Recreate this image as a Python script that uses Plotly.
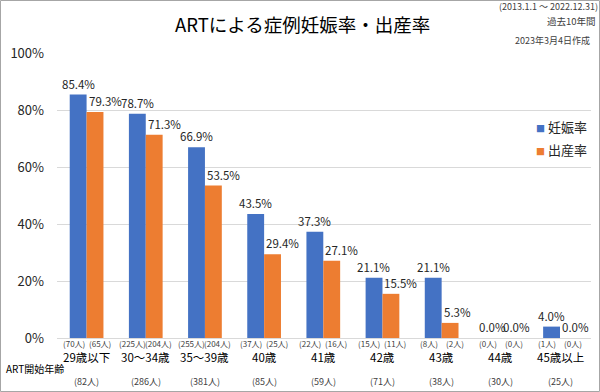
import plotly.graph_objects as go

categories = ["29歳以下", "30～34歳", "35～39歳", "40歳", "41歳", "42歳", "43歳", "44歳", "45歳以上"]
pregnancy_rate = [85.4, 78.7, 66.9, 43.5, 37.3, 21.1, 21.1, 0.0, 4.0]
birth_rate = [79.3, 71.3, 53.5, 29.4, 27.1, 15.5, 5.3, 0.0, 0.0]
pregnancy_n = [70, 225, 255, 37, 22, 15, 8, 0, 1]
birth_n = [65, 204, 204, 25, 16, 11, 2, 0, 0]
total_n = [82, 286, 381, 85, 59, 71, 38, 30, 25]
y_ticks = [0, 20, 40, 60, 80, 100]

BLUE = "#4472C4"
ORANGE = "#ED7D31"
FONT = "Noto Sans CJK JP"
W, H = 600, 392
L, R, T, B = 57, 9, 53, 54
PW, PH = W - L - R, H - T - B
HALF = 8.5  # half bar width in px

fig = go.Figure()
fig.add_trace(go.Bar(x=categories, y=pregnancy_rate, name="妊娠率", marker=dict(color=BLUE, line=dict(width=0))))
fig.add_trace(go.Bar(x=categories, y=birth_rate, name="出産率", marker=dict(color=ORANGE, line=dict(width=0))))

ann = []
for c, p, b, pn, bn, tn in zip(categories, pregnancy_rate, birth_rate, pregnancy_n, birth_n, total_n):
    ann.append(dict(x=c, y=p, xref="x", yref="y", text=f"{p:.1f}%", showarrow=False,
                    xanchor="center", yanchor="bottom", xshift=-HALF, yshift=1,
                    font=dict(size=11.5, color="#262626", family=FONT)))
    ann.append(dict(x=c, y=b, xref="x", yref="y", text=f"{b:.1f}%", showarrow=False,
                    xanchor="left", yanchor="bottom", xshift=0, yshift=1,
                    font=dict(size=11.5, color="#262626", family=FONT)))
    ann.append(dict(x=c, y=0, xref="x", yref="paper", text=f"({pn}人)", showarrow=False,
                    xanchor="center", yanchor="middle", xshift=-13, yshift=-5.5, borderpad=0,
                    font=dict(size=8, color="#404040", family=FONT)))
    ann.append(dict(x=c, y=0, xref="x", yref="paper", text=f"({bn}人)", showarrow=False,
                    xanchor="center", yanchor="middle", xshift=13, yshift=-5.5, borderpad=0,
                    font=dict(size=8, color="#404040", family=FONT)))
    ann.append(dict(x=c, y=0, xref="x", yref="paper", text=c, showarrow=False,
                    xanchor="center", yanchor="middle", yshift=-19,
                    font=dict(size=11.5, color="#000000", family=FONT)))
    ann.append(dict(x=c, y=0, xref="x", yref="paper", text=f"({tn}人)", showarrow=False,
                    xanchor="center", yanchor="middle", yshift=-43,
                    font=dict(size=9, color="#404040", family=FONT)))

def px_x(x):
    return (x - L) / PW

def px_y(y):
    return (H - B - y) / PH

ann += [
    dict(x=px_x(302), y=px_y(24), xref="paper", yref="paper", text="ARTによる症例妊娠率・出産率",
         showarrow=False, xanchor="center", yanchor="middle",
         font=dict(size=18.5, color="#000000", family=FONT)),
    dict(x=px_x(599), y=px_y(7), xref="paper", yref="paper", text="(2013.1.1 ～ 2022.12.31)",
         showarrow=False, xanchor="right", yanchor="middle", borderpad=0,
         font=dict(size=9, color="#404040", family=FONT)),
    dict(x=px_x(597), y=px_y(21), xref="paper", yref="paper", text="過去10年間",
         showarrow=False, xanchor="right", yanchor="middle", borderpad=0,
         font=dict(size=9.5, color="#404040", family=FONT)),
    dict(x=px_x(592), y=px_y(40), xref="paper", yref="paper", text="2023年3月4日作成",
         showarrow=False, xanchor="right", yanchor="middle",
         font=dict(size=9, color="#404040", family=FONT)),
    dict(x=px_x(4), y=px_y(369), xref="paper", yref="paper", text="ART開始年齢",
         showarrow=False, xanchor="left", yanchor="middle",
         font=dict(size=10, color="#000000", family=FONT)),
    dict(x=px_x(534), y=px_y(126), xref="paper", yref="paper",
         text=f"<span style='color:{BLUE};font-size:9px'>■</span> 妊娠率",
         showarrow=False, xanchor="left", yanchor="middle",
         font=dict(size=13, color="#262626", family=FONT)),
    dict(x=px_x(534), y=px_y(149), xref="paper", yref="paper",
         text=f"<span style='color:{ORANGE};font-size:9px'>■</span> 出産率",
         showarrow=False, xanchor="left", yanchor="middle",
         font=dict(size=13, color="#262626", family=FONT)),
]

fig.update_layout(
    width=W, height=H,
    margin=dict(l=L, r=R, t=T, b=B),
    paper_bgcolor="white", plot_bgcolor="white",
    barmode="group", bargap=0.43, bargroupgap=0,
    showlegend=False,
    annotations=ann,
    font=dict(family=FONT),
    shapes=[dict(type="rect", xref="paper", yref="paper",
                 x0=px_x(0.5), x1=px_x(W - 0.5), y0=px_y(H - 0.5), y1=px_y(0.5),
                 line=dict(color="#a6a6a6", width=1), layer="above")],
)
fig.update_xaxes(showticklabels=False, showgrid=False, showline=False, zeroline=False)
fig.update_yaxes(range=[0, 100], tickvals=y_ticks, ticktext=[f"{v}%" for v in y_ticks],
                 showgrid=True, gridcolor="#d9d9d9", gridwidth=1,
                 zeroline=True, zerolinecolor="#d9d9d9", zerolinewidth=1,
                 showline=False, ticklabelstandoff=12,
                 tickfont=dict(size=13, color="#262626", family=FONT))

fig.write_html("out.html", config={"displayModeBar": False},
               post_script="document.body.style.margin='0';document.body.style.padding='0';")
